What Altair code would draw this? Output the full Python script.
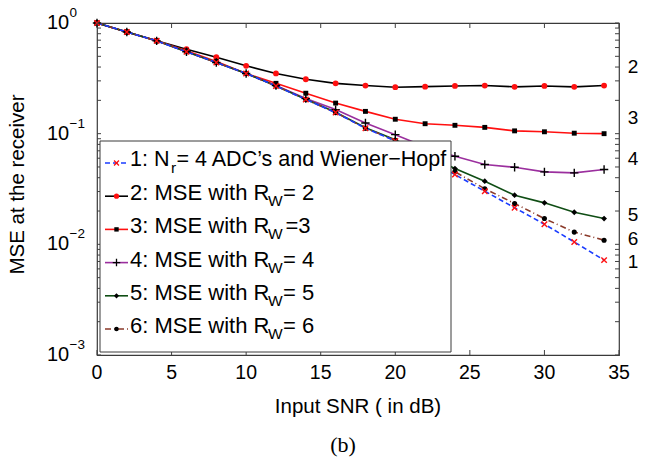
import altair as alt
import pandas as pd

# ---------------- data ----------------
snr = [0, 2, 4, 6, 8, 10, 12, 14, 16, 18, 20, 22, 24, 26, 28, 30, 32, 34]
mse_wiener = [1.0, 0.83, 0.69, 0.55, 0.44, 0.35, 0.27, 0.204, 0.155, 0.112, 0.086, 0.061,
              0.0427, 0.0302, 0.0214, 0.0152, 0.0105, 0.0072]
mse_rw2 = [1.0, 0.83, 0.69, 0.58, 0.49, 0.41, 0.35, 0.31, 0.285, 0.272, 0.263, 0.266,
           0.27, 0.272, 0.265, 0.27, 0.265, 0.272]
mse_rw3 = [1.0, 0.83, 0.69, 0.56, 0.45, 0.35, 0.285, 0.232, 0.189, 0.159, 0.135, 0.123,
           0.119, 0.114, 0.106, 0.104, 0.101, 0.100]
mse_rw4 = [1.0, 0.83, 0.69, 0.55, 0.44, 0.35, 0.272, 0.208, 0.165, 0.125, 0.098, 0.076,
           0.0625, 0.0526, 0.0497, 0.0452, 0.0442, 0.0474]
mse_rw5 = [1.0, 0.83, 0.69, 0.55, 0.44, 0.35, 0.27, 0.205, 0.156, 0.113, 0.088, 0.065,
           0.0484, 0.0372, 0.0278, 0.0237, 0.0195, 0.0171]
mse_rw6 = [1.0, 0.83, 0.69, 0.55, 0.44, 0.35, 0.27, 0.204, 0.155, 0.112, 0.087, 0.062,
           0.0452, 0.0318, 0.0234, 0.0171, 0.0129, 0.0109]

legend_main = ["1: N", "2: MSE with R", "3: MSE with R", "4: MSE with R",
               "5: MSE with R", "6: MSE with R"]
legend_sub = ["r", "W", "W", "W", "W", "W"]
legend_suffix = [" = 4 ADC\u2019s and Wiener\u2212Hopf", " = 2", "=3", " = 4", " = 5", " = 6"]

x_ticks = [0, 5, 10, 15, 20, 25, 30, 35]
x_tick_labels = ["0", "5", "10", "15", "20", "25", "30", "35"]
y_decades = [1.0, 0.1, 0.01, 0.001]
y_exponents = ["0", "\u22121", "\u22122", "\u22123"]
y_minor = [k * 10.0 ** e for e in (-3, -2, -1) for k in range(1, 10)] + [1.0]

end_labels = ["2", "3", "4", "5", "6", "1"]
end_label_y = [0.402, 0.139, 0.0595, 0.0186, 0.0111, 0.00689]

x_title = "Input SNR ( in dB)"
y_title = "MSE at the receiver"
caption = "(b)"

# ---------------- styling ----------------
W, H = 522, 332
FONT = "Liberation Sans"
XPATH = "M-1,-1L1,1M-1,1L1,-1"
PLUS = "M-1,0L1,0M0,-1L0,1"

series = [
    dict(v=mse_wiener, line="#1a3cff", dash=[5, 3], shape=XPATH, fill=None, mcol="#ff1010", size=30),
    dict(v=mse_rw2, line="#000000", dash=None, shape="circle", fill="#ff1010", mcol=None, size=34),
    dict(v=mse_rw3, line="#ff1010", dash=None, shape="square", fill="#000000", mcol=None, size=24),
    dict(v=mse_rw4, line="#9b2f9e", dash=None, shape=PLUS, fill=None, mcol="#000000", size=70),
    dict(v=mse_rw5, line="#0f4d14", dash=None, shape="diamond", fill="#000000", mcol=None, size=34),
    dict(v=mse_rw6, line="#8b3a2a", dash=[6, 3, 1, 3], shape="circle", fill="#000000", mcol=None, size=26),
]

xscale = alt.Scale(domain=[0, 35], nice=False, zero=False)
yscale = alt.Scale(type="log", domain=[0.001, 1], nice=False)

xaxis = alt.Axis(values=x_ticks, title=None, grid=True, gridDash=[1, 2], gridColor="#a0a0a0",
                 gridWidth=1, ticks=False, domain=False, labels=False)
yaxis = alt.Axis(values=y_minor, title=None, grid=True, gridDash=[1, 2], gridColor="#a0a0a0",
                 gridWidth=1, ticks=False, domain=False, labels=False)

X = alt.X("snr:Q", scale=xscale, axis=xaxis)
Y = alt.Y("mse:Q", scale=yscale, axis=yaxis)

layers = []
order = [1, 2, 3, 4, 5, 0]
for i in order:
    s = series[i]
    df = pd.DataFrame({"snr": snr, "mse": s["v"]})
    lk = dict(color=s["line"], strokeWidth=1.6)
    if s["dash"]:
        lk["strokeDash"] = s["dash"]
    layers.append(alt.Chart(df).mark_line(**lk).encode(x=X, y=Y))
for i in order:
    s = series[i]
    df = pd.DataFrame({"snr": snr, "mse": s["v"]})
    if s["fill"]:
        pk = dict(shape=s["shape"], filled=True, fill=s["fill"], size=s["size"], opacity=1, strokeWidth=0)
    else:
        pk = dict(shape=s["shape"], filled=False, stroke=s["mcol"], size=s["size"], opacity=1, strokeWidth=1.4)
    layers.append(alt.Chart(df).mark_point(**pk).encode(x=X, y=Y))

# inward ticks (MATLAB style box)
xt = pd.DataFrame({"t": x_ticks, "lab": x_tick_labels})
yt = pd.DataFrame({"t": y_minor})
XT = alt.X("t:Q", scale=xscale, axis=None)
YT = alt.Y("t:Q", scale=yscale, axis=None)
tick_col = "#404040"
layers += [
    alt.Chart(xt).mark_rule(color=tick_col, strokeWidth=1).encode(x=XT, y=alt.value(H), y2=alt.value(H - 5)),
    alt.Chart(xt).mark_rule(color=tick_col, strokeWidth=1).encode(x=XT, y=alt.value(0), y2=alt.value(5)),
    alt.Chart(yt).mark_rule(color=tick_col, strokeWidth=1).encode(y=YT, x=alt.value(0), x2=alt.value(4)),
    alt.Chart(yt).mark_rule(color=tick_col, strokeWidth=1).encode(y=YT, x=alt.value(W), x2=alt.value(W - 4)),
]

# x tick labels
layers.append(
    alt.Chart(xt).mark_text(font=FONT, fontSize=19.5, align="center", baseline="middle", color="#000")
    .encode(x=XT, y=alt.value(H + 18), text="lab:N"))

# y tick labels 10^k
yl = pd.DataFrame({"t": y_decades, "e": y_exponents})
layers += [
    alt.Chart(yl).mark_text(font=FONT, fontSize=20, align="left", baseline="middle", color="#000")
    .encode(y=YT, x=alt.value(-50), text=alt.value("10")),
    alt.Chart(yl).mark_text(font=FONT, fontSize=13.5, align="left", baseline="middle", color="#000", dy=-10)
    .encode(y=YT, x=alt.value(-27.5), text="e:N"),
]

# axis titles
tt = pd.DataFrame({"xt": [x_title], "yt": [y_title]})
layers += [
    alt.Chart(tt).mark_text(font=FONT, fontSize=20.5, align="center", baseline="middle", color="#000")
    .encode(x=alt.value(W / 2), y=alt.value(H + 52), text="xt:N"),
    alt.Chart(tt).mark_text(font=FONT, fontSize=20.5, align="center", baseline="middle", color="#000",
                            angle=270)
    .encode(x=alt.value(-79), y=alt.value(161.5), text="yt:N"),
]

# curve end labels
el = pd.DataFrame({"t": end_label_y, "lab": end_labels})
layers.append(
    alt.Chart(el).mark_text(font=FONT, fontSize=19, align="center", baseline="middle", color="#000")
    .encode(y=YT, x=alt.value(W + 14), text="lab:N"))

# legend box
box = pd.DataFrame({"a": [0]})
layers.append(alt.Chart(box).mark_rect(fill="white", stroke="#3a3a3a", strokeWidth=1)
              .encode(x=alt.value(3), x2=alt.value(354), y=alt.value(118), y2=alt.value(329)))

row_y = [137 + 33.2 * i for i in range(6)]
font_main = [21.5] + [22] * 5
sub_x = [74] + [171] * 5
suf_x = [79.5, 186, 188.5, 186, 186, 186]
leg = pd.DataFrame({"main": legend_main, "sub": legend_sub, "suf": legend_suffix,
                    "y": row_y, "ys": [v + 8 for v in row_y], "xs": sub_x, "xf": suf_x,
                    "fs": font_main})
PX = lambda f: alt.X(f"{f}:Q", scale=None, axis=None)
PY = lambda f: alt.Y(f"{f}:Q", scale=None, axis=None)
FS = alt.Size("fs:Q", scale=None, legend=None)
layers += [
    alt.Chart(leg).mark_text(font=FONT, align="left", baseline="middle", color="#000")
    .encode(x=alt.value(33), y=PY("y"), text="main:N", size=FS),
    alt.Chart(leg).mark_text(font=FONT, fontSize=15.5, align="left", baseline="middle", color="#000")
    .encode(x=PX("xs"), y=PY("ys"), text="sub:N"),
    alt.Chart(leg).mark_text(font=FONT, align="left", baseline="middle", color="#000")
    .encode(x=PX("xf"), y=PY("y"), text="suf:N", size=FS),
]
for i, s in enumerate(series):
    ly = row_y[i] + 3
    d = pd.DataFrame({"a": [0]})
    lk = dict(color=s["line"], strokeWidth=1.6)
    if s["dash"]:
        lk["strokeDash"] = s["dash"]
    layers.append(alt.Chart(d).mark_rule(**lk).encode(x=alt.value(8), x2=alt.value(31), y=alt.value(ly)))
    if s["fill"]:
        pk = dict(shape=s["shape"], filled=True, fill=s["fill"], size=s["size"] * 0.8, opacity=1, strokeWidth=0)
    else:
        pk = dict(shape=s["shape"], filled=False, stroke=s["mcol"], size=s["size"] * 0.8, opacity=1, strokeWidth=1.3)
    layers.append(alt.Chart(d).mark_point(**pk).encode(x=alt.value(19.5), y=alt.value(ly)))

# caption
cap = pd.DataFrame({"c": [caption]})
layers.append(alt.Chart(cap).mark_text(font="Liberation Serif", fontSize=22, align="center",
                                       baseline="middle", color="#000")
              .encode(x=alt.value(246), y=alt.value(422), text="c:N"))

chart = alt.layer(*layers).properties(
    width=W, height=H,
    autosize=alt.AutoSizeParams(type="none"),
    padding={"left": 97, "top": 23, "right": 51, "bottom": 104},
    background="white",
).configure_view(stroke="#3a3a3a", strokeWidth=1.2)

chart.save("out.html", embed_options={"renderer": "svg", "actions": False})
